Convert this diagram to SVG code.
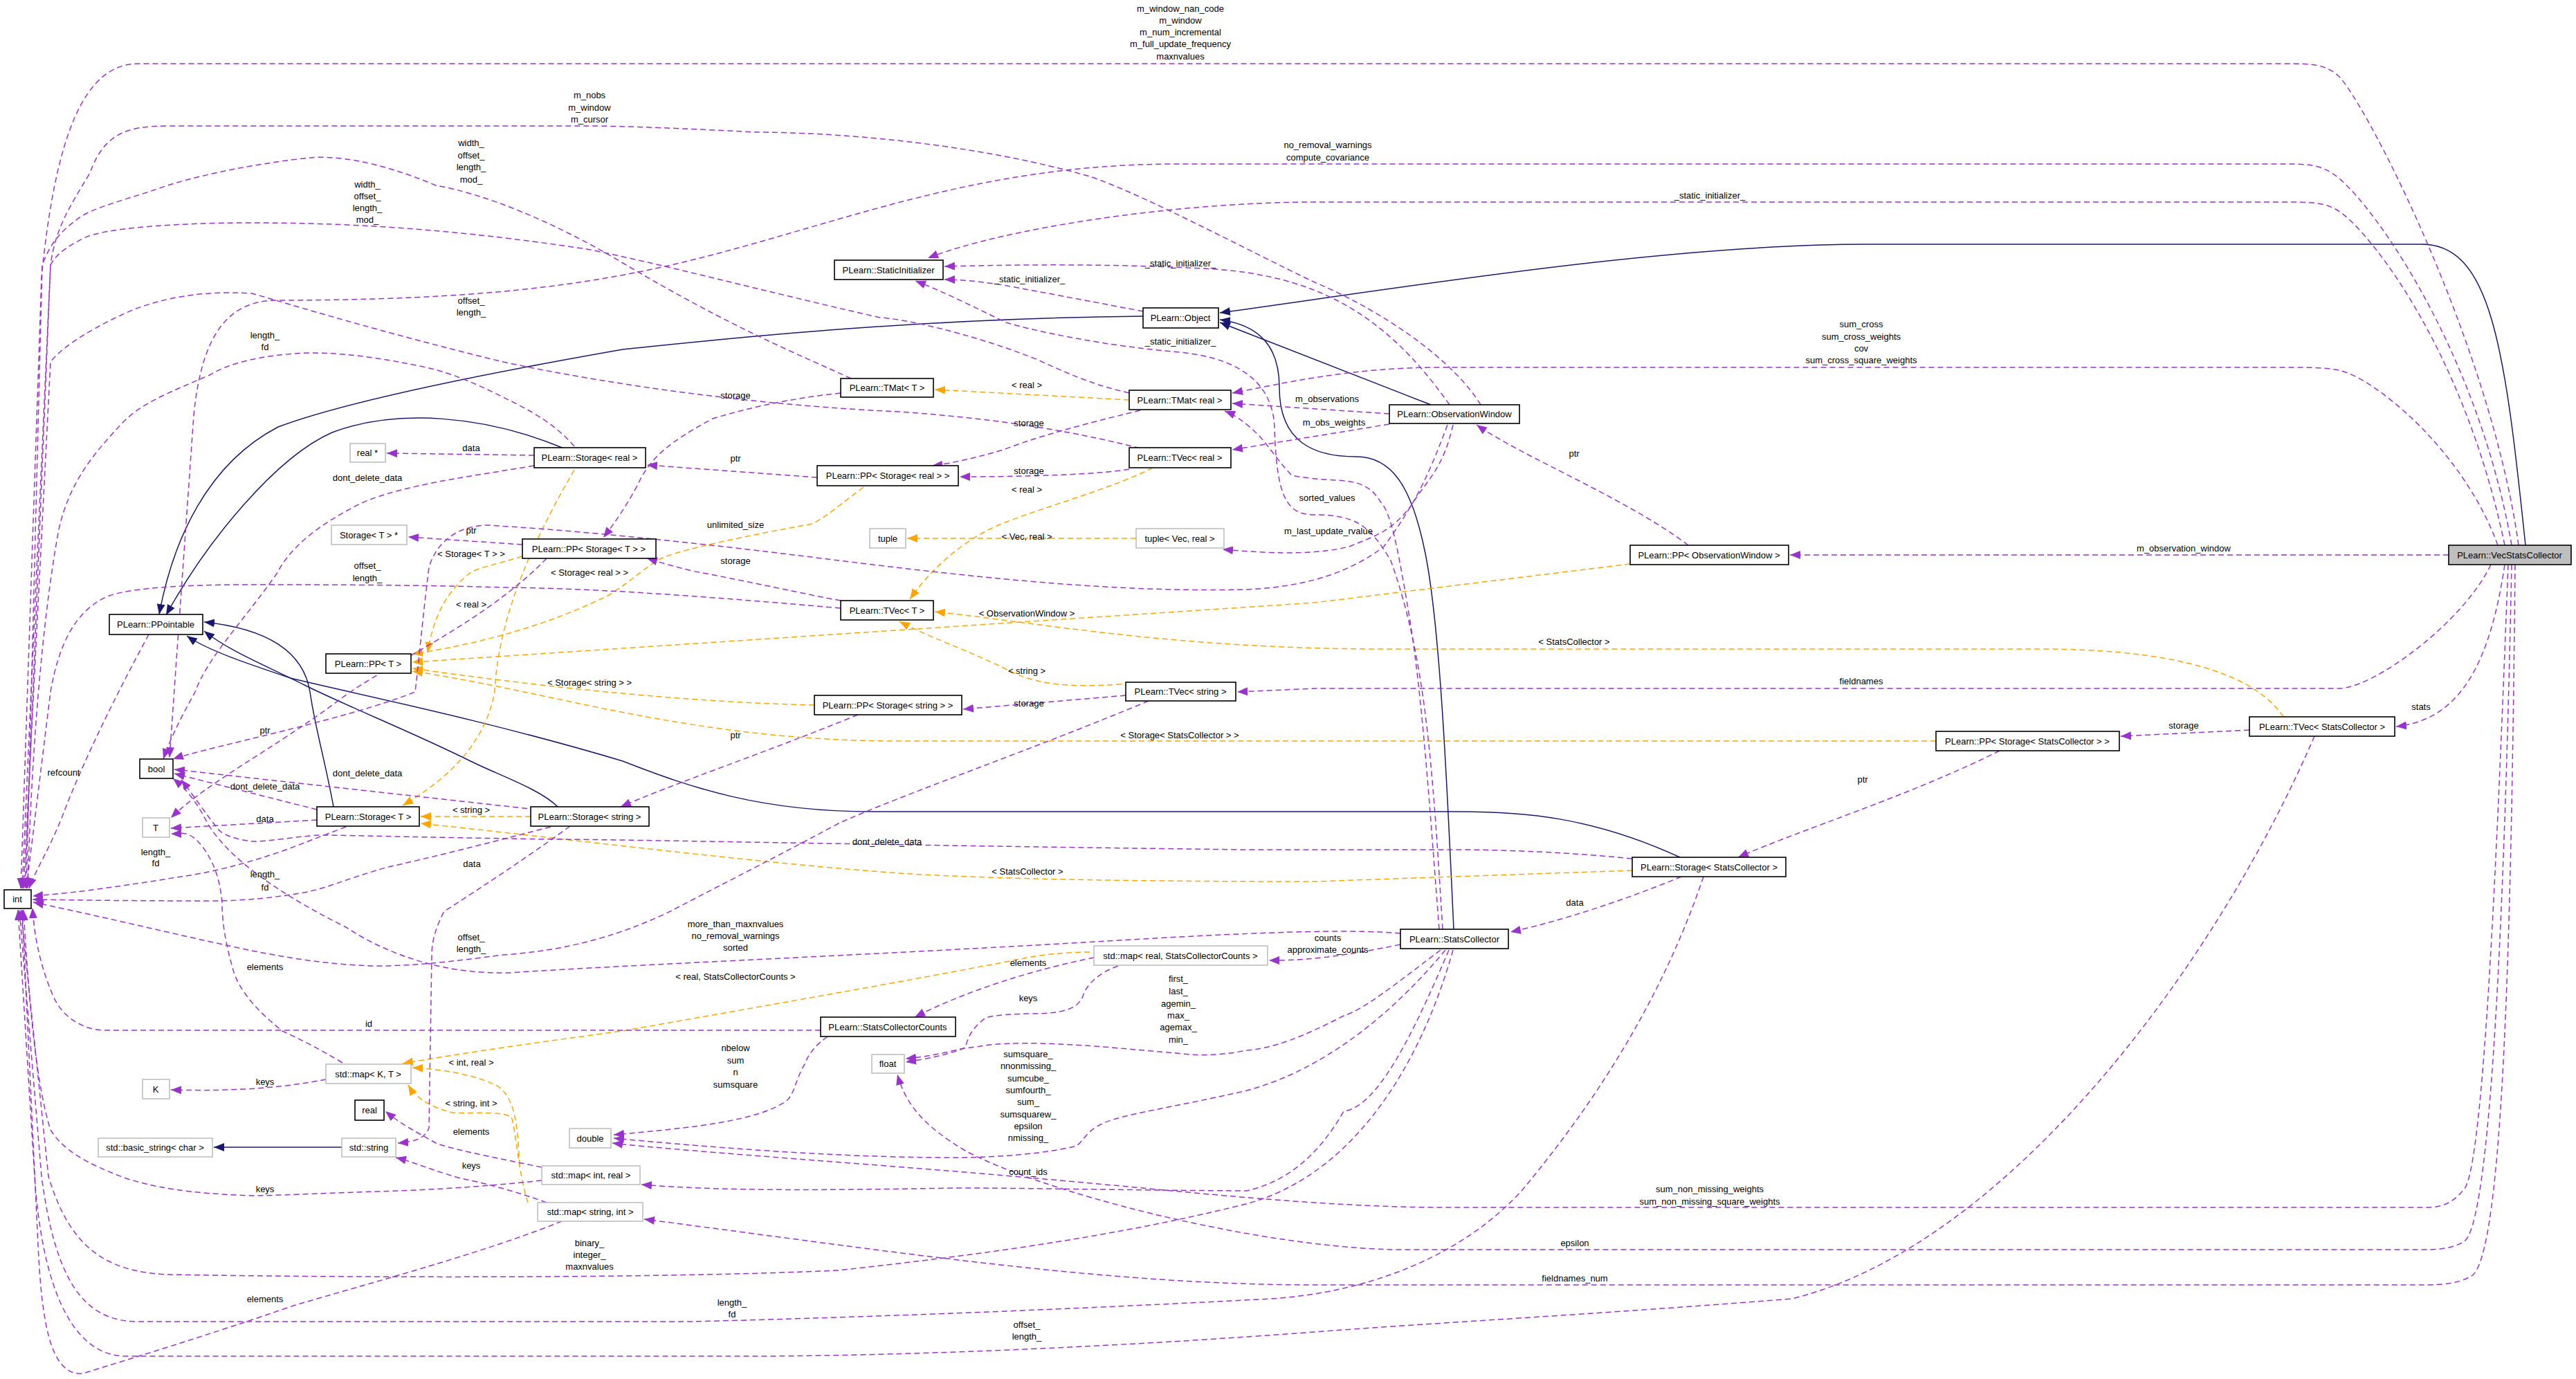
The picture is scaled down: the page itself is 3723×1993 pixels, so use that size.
<svg xmlns="http://www.w3.org/2000/svg" width="3723" height="1993" viewBox="0 0 3723 1993">
<style>
text{font-family:"Liberation Sans",Arial,sans-serif;font-size:13px;fill:#000}
.nt{text-anchor:middle}
.lb{text-anchor:middle}
.n rect{fill:#fff;stroke:#000;stroke-width:1.6}
.e rect{fill:#fff;stroke:#bfbfbf;stroke-width:1.6}
.g rect{fill:#bfbfbf;stroke:#000;stroke-width:1.6}
.u{fill:none;stroke:#9a32cd;stroke-width:1.5;stroke-dasharray:8,5;marker-end:url(#mu)}
.t{fill:none;stroke:#ffa500;stroke-width:1.5;stroke-dasharray:8,5;marker-end:url(#mt)}
.i{fill:none;stroke:#191970;stroke-width:1.5;marker-end:url(#mi)}
</style>
<defs>
<marker id="mu" markerUnits="userSpaceOnUse" markerWidth="16" markerHeight="12" refX="15" refY="6" orient="auto"><path d="M0,0 L15,6 L0,12 z" fill="#9a32cd"/></marker>
<marker id="mt" markerUnits="userSpaceOnUse" markerWidth="16" markerHeight="12" refX="15" refY="6" orient="auto"><path d="M0,0 L15,6 L0,12 z" fill="#ffa500"/></marker>
<marker id="mi" markerUnits="userSpaceOnUse" markerWidth="16" markerHeight="12" refX="15" refY="6" orient="auto"><path d="M0,0 L15,6 L0,12 z" fill="#191970"/></marker>
</defs>
<rect width="3723" height="1993" fill="#fff"/>
<g id="edges">
<path class="i" d="M3650,788 C3620,500 3600,353 3500,353 L2700,353 C2400,353 2000,420 1763,452"/>
<path class="i" d="M2068,585 L1763,466"/>
<path class="i" d="M2101,1343 C2090,1100 2080,900 2060,800 C2040,700 2010,660 1960,660 C1900,660 1849,640 1849,560 C1849,500 1820,470 1763,462"/>
<path class="i" d="M1652,457 C1300,460 1000,495 900,505 C700,540 500,580 402,617 C300,670 250,780 230,888"/>
<path class="i" d="M815,648 C700,600 574,590 480,625 C400,660 300,780 240,889"/>
<path class="i" d="M482,1166 C470,1100 455,1050 448,1000 C440,950 400,910 295,899"/>
<path class="i" d="M806,1166 C780,1140 720,1120 680,1100 C600,1060 500,1020 440,990 C380,960 330,940 295,912"/>
<path class="i" d="M2428,1239 C2300,1180 2200,1173 2107,1173 L1260,1173 C1100,1173 1000,1139 900,1100 C700,1040 500,1000 420,980 C360,960 300,940 270,919"/>
<path class="i" d="M494,1658 L309,1658"/>
<path class="t" d="M1632,578 L1351,563"/>
<path class="t" d="M1666,676 C1600,710 1480,740 1430,765 C1380,790 1340,830 1315,866"/>
<path class="t" d="M1642,778 L1311,778"/>
<path class="t" d="M1660,986 C1600,990 1520,1000 1460,970 C1400,940 1340,920 1300,898"/>
<path class="t" d="M2356,815 L1900,871 L596,957"/>
<path class="t" d="M3300,1036 C3250,960 3100,938 2950,938 L2000,938 C1700,938 1500,900 1351,884"/>
<path class="t" d="M1248,704 C1200,740 1180,759 1163,759 C1050,780 969,798 950,810 C920,830 909,842 880,860 C800,900 700,930 596,945"/>
<path class="t" d="M755,804 C720,815 690,820 678,829 C640,860 625,900 618,943"/>
<path class="t" d="M1177,1019 C1000,1015 800,995 596,966"/>
<path class="t" d="M2798,1071 L1300,1071 C1000,1071 800,1000 596,970"/>
<path class="t" d="M830,679 C760,800 720,900 715,1000 C700,1080 640,1130 582,1164"/>
<path class="t" d="M767,1180 L608,1180"/>
<path class="t" d="M2359,1258 L1900,1274 C1700,1274 1454,1272 1300,1262 C1090,1247 800,1210 608,1190"/>
<path class="t" d="M1575,1376 C1540,1376 1503,1380 1480,1385 C1300,1420 1091,1456 900,1490 C750,1510 650,1525 582,1537"/>
<path class="t" d="M751,1684 C748,1640 748,1590 720,1570 C680,1550 630,1545 596,1543"/>
<path class="t" d="M763,1738 C750,1700 745,1630 739,1614 C720,1605 680,1610 654,1608 C620,1600 600,1585 590,1568"/>
<path class="u" d="M3640,788 C3600,500 3420,150 3380,110 C3360,92 3340,92 3300,92 L200,92 C120,92 80,200 60,400 L30,1284"/>
<path class="u" d="M3630,788 C3580,500 3420,280 3370,250 C3350,237 3330,237 3300,237 L1700,237 C1400,237 1200,330 970,383 C850,410 700,434 400,434 C320,434 290,500 280,600 L245,1095"/>
<path class="u" d="M3620,788 C3560,500 3420,330 3380,305 C3360,292 3340,292 3300,292 L1900,292 C1700,292 1450,330 1341,373"/>
<path class="u" d="M3610,788 C3560,650 3430,545 3380,535 C3360,531 3340,531 3300,531 L2080,531 C1950,531 1850,555 1781,568"/>
<path class="u" d="M3539,802 L2587,802"/>
<path class="u" d="M3600,816 C3560,900 3430,995 3380,995 L1900,995 L1788,1000"/>
<path class="u" d="M3620,816 C3600,950 3560,1040 3463,1050"/>
<path class="u" d="M3625,816 C3610,1200 3590,1700 3560,1720 C3540,1745 3520,1745 3500,1745 L2090,1745 C1900,1745 1700,1720 1486,1702 C1300,1685 1000,1665 885,1652"/>
<path class="u" d="M3630,816 C3620,1300 3600,1780 3560,1795 C3540,1806 3520,1806 3500,1806 L2012,1806 C1800,1800 1500,1720 1395,1663 C1340,1630 1310,1600 1297,1553"/>
<path class="u" d="M3635,816 C3630,1300 3620,1830 3570,1845 C3550,1857 3520,1857 3500,1857 L1900,1857 C1600,1857 1300,1810 931,1762"/>
<path class="u" d="M2140,585 C2100,520 2000,450 1900,408 C1800,360 1650,280 1575,255 C1400,205 1200,191 1090,191 C1000,186 900,182 848,182 L242,182 C180,182 150,195 130,250 C100,300 80,330 73,383 L32,1284"/>
<path class="u" d="M2095,585 C2000,450 1900,400 1757,389 C1600,380 1450,383 1365,385"/>
<path class="u" d="M2008,598 L1781,583"/>
<path class="u" d="M2008,613 L1781,650"/>
<path class="u" d="M2100,614 C2085,680 2061,695 2040,730 C2010,770 1985,775 1950,790 C1908,800 1857,802 1767,794"/>
<path class="u" d="M2092,614 C2060,700 2041,733 2000,790 C1959,821 1900,848 1800,852 C1653,855 1500,846 1212,810 C1163,804 900,770 703,759 C660,760 630,785 620,820 C610,900 606,950 600,1000 C500,1040 300,1080 250,1097"/>
<path class="u" d="M1230,547 C1150,510 1066,478 900,380 C800,320 700,280 630,268 C540,230 480,225 448,228 C380,235 300,250 242,268 C180,290 130,300 109,319 C80,340 70,360 61,383 L38,1284"/>
<path class="u" d="M1632,568 C1600,560 1575,555 1500,520 C1400,480 1300,460 1272,459 C1100,420 950,380 848,360 C650,330 500,322 364,322 C250,322 150,330 121,344 C90,360 80,370 73,383 L36,1284"/>
<path class="u" d="M1215,568 C1150,575 1090,587 1030,605 C969,638 940,660 921,702 C900,740 885,760 872,777"/>
<path class="u" d="M1648,593 C1600,605 1515,625 1450,650 C1400,665 1360,672 1347,673"/>
<path class="u" d="M1632,678 C1600,684 1515,689 1387,689"/>
<path class="u" d="M1215,868 C1170,860 1090,842 1000,825 C960,815 945,810 935,807"/>
<path class="u" d="M1215,879 C1000,860 850,850 727,849 C600,845 450,845 364,845 C260,845 190,850 158,861 C110,880 85,930 73,1000 L38,1284"/>
<path class="u" d="M1660,651 C1560,625 1454,606 1300,595 C1115,587 900,560 727,523 C550,480 420,440 364,424 C290,420 240,430 194,447 C140,470 90,500 73,523 L34,1284"/>
<path class="u" d="M1660,1013 C1500,1080 1300,1150 1212,1190 C1100,1250 1020,1290 969,1317 C880,1360 800,1375 727,1380 C650,1390 600,1396 545,1396 C480,1395 420,1385 364,1374 C250,1350 150,1325 48,1304"/>
<path class="u" d="M830,645 C800,610 760,590 727,574 C680,550 640,535 606,529 C540,515 490,510 448,510 C380,512 330,525 303,542 C250,565 210,580 182,606 C130,660 100,700 85,765 C60,900 45,1100 40,1284"/>
<path class="u" d="M772,658 L559,655"/>
<path class="u" d="M772,673 C700,685 650,692 606,702 C560,712 530,722 509,734 C460,760 420,790 400,829 C350,900 300,950 282,1000 C260,1040 245,1070 236,1097"/>
<path class="u" d="M1181,690 L935,672"/>
<path class="u" d="M755,787 L590,776"/>
<path class="u" d="M790,807 C700,900 560,960 495,1008 C400,1080 300,1130 247,1182"/>
<path class="u" d="M1240,1033 C1100,1090 980,1130 897,1166"/>
<path class="u" d="M1627,1005 L1392,1025"/>
<path class="u" d="M458,1170 L252,1118"/>
<path class="u" d="M458,1185 L247,1197"/>
<path class="u" d="M500,1195 C460,1210 430,1222 408,1230 C350,1250 300,1262 255,1268 C150,1285 90,1292 47,1295"/>
<path class="u" d="M775,1170 L252,1112"/>
<path class="u" d="M796,1195 C700,1220 620,1240 561,1253 C500,1270 470,1285 434,1291 C390,1298 350,1302 306,1302 C200,1302 120,1301 47,1300"/>
<path class="u" d="M824,1194 C760,1240 700,1280 642,1317 C630,1340 624,1360 624,1380 L620,1630 C615,1645 600,1650 575,1652"/>
<path class="u" d="M215,917 C170,1000 120,1100 90,1180 C70,1230 50,1260 42,1284"/>
<path class="u" d="M471,1560 C420,1570 350,1578 247,1575"/>
<path class="u" d="M495,1536 C460,1515 430,1500 408,1490 C370,1460 345,1430 337,1402 C325,1360 321,1330 321,1306 C318,1260 300,1230 285,1215 C270,1200 258,1205 247,1205"/>
<path class="u" d="M783,1687 C700,1670 650,1660 630,1652 C600,1635 580,1625 557,1606"/>
<path class="u" d="M783,1706 C700,1715 620,1720 545,1722 C450,1725 400,1728 364,1728 C270,1725 220,1715 182,1703 C120,1680 90,1660 73,1633 C50,1560 40,1420 34,1315"/>
<path class="u" d="M790,1738 C740,1720 700,1710 666,1703 C620,1690 600,1680 572,1673"/>
<path class="u" d="M812,1765 C700,1810 550,1850 424,1887 C300,1930 200,1960 120,1985 C70,1990 60,1900 55,1800 L32,1315"/>
<path class="u" d="M1581,1384 C1500,1400 1400,1430 1322,1470"/>
<path class="u" d="M1616,1396 C1590,1405 1570,1422 1565,1440 C1556,1461 1530,1465 1486,1465 C1450,1466 1430,1468 1423,1472 C1400,1490 1398,1505 1395,1514 C1370,1525 1340,1530 1309,1535"/>
<path class="u" d="M1186,1489 L800,1489 L153,1489 C120,1489 90,1470 77,1440 C60,1400 50,1360 47,1312"/>
<path class="u" d="M1196,1498 C1180,1510 1170,1520 1163,1538 C1150,1560 1150,1575 1139,1589 C1100,1620 1000,1630 887,1640"/>
<path class="u" d="M2024,1365 C1950,1380 1900,1388 1834,1388"/>
<path class="u" d="M2024,1349 C1950,1342 1800,1348 1600,1360 C1300,1378 900,1395 750,1405 C650,1412 560,1380 500,1340 C400,1290 330,1240 300,1190 C280,1150 262,1135 250,1125"/>
<path class="u" d="M2082,1373 C2020,1420 1970,1460 1942,1468 C1880,1500 1840,1515 1802,1518 C1760,1526 1731,1526 1700,1522 C1650,1518 1591,1512 1550,1510 C1500,1507 1465,1507 1430,1510 C1400,1515 1395,1514 1380,1518 C1350,1525 1330,1528 1309,1530"/>
<path class="u" d="M2089,1373 C2000,1480 1900,1550 1802,1576 C1700,1600 1620,1610 1591,1625 C1570,1635 1565,1650 1556,1656 C1500,1670 1420,1673 1381,1673 C1250,1673 1100,1665 887,1645"/>
<path class="u" d="M2094,1373 C2040,1500 1990,1600 1942,1606 C1900,1680 1850,1710 1802,1721 C1600,1720 1500,1717 1381,1717 C1200,1720 1050,1722 927,1712"/>
<path class="u" d="M2100,1373 C2050,1550 1950,1700 1801,1740 C1600,1790 1400,1815 1212,1836 C900,1850 400,1845 242,1842 C150,1838 100,1800 70,1700 L30,1315"/>
<path class="u" d="M2085,1343 C2070,1100 2060,950 2010,810 C1980,760 1960,744 1900,744 C1860,744 1845,720 1842,618 C1840,560 1800,518 1704,509 C1600,500 1500,480 1454,466 C1400,440 1360,420 1323,406"/>
<path class="u" d="M2080,1343 C2065,1150 2055,1000 2036,886 C2020,790 2010,740 1995,725 C1980,700 1959,695 1930,694 C1908,693 1880,690 1867,687 C1850,670 1837,649 1820,630 C1800,610 1785,600 1770,594"/>
<path class="u" d="M1652,450 C1600,440 1515,424 1450,412 C1410,406 1385,404 1365,404"/>
<path class="u" d="M2430,1267 C2350,1300 2260,1330 2183,1347"/>
<path class="u" d="M2359,1241 C2250,1230 2150,1228 2107,1228 L1800,1228 C1300,1222 900,1213 800,1213 C600,1210 500,1207 459,1207 C420,1210 390,1216 367,1216 C340,1214 320,1205 316,1199 C300,1180 280,1150 262,1127"/>
<path class="u" d="M2462,1267 C2400,1450 2300,1600 2200,1720 C2100,1830 1950,1870 1837,1877 C1500,1895 1200,1905 1000,1910 L200,1910 C120,1910 80,1850 60,1700 L28,1315"/>
<path class="u" d="M2890,1085 C2760,1150 2600,1200 2512,1239"/>
<path class="u" d="M3251,1055 L3065,1064"/>
<path class="u" d="M3345,1064 C3200,1400 2900,1800 2590,1877 C2300,1900 2100,1910 1900,1925 C1500,1955 1200,1960 1090,1960 L182,1960 C100,1960 60,1850 50,1700 L26,1315"/>
<path class="u" d="M2440,788 C2350,720 2200,660 2134,614"/>
</g>
<g id="edge-labels">
<text class="lb" x="1706" y="17">m_window_nan_code</text>
<text class="lb" x="1706" y="34">m_window</text>
<text class="lb" x="1706" y="51">m_num_incremental</text>
<text class="lb" x="1706" y="68">m_full_update_frequency</text>
<text class="lb" x="1706" y="86">maxnvalues</text>
<text class="lb" x="852" y="142">m_nobs</text>
<text class="lb" x="852" y="160">m_window</text>
<text class="lb" x="852" y="177">m_cursor</text>
<text class="lb" x="681" y="211">width_</text>
<text class="lb" x="681" y="229">offset_</text>
<text class="lb" x="681" y="246">length_</text>
<text class="lb" x="681" y="264">mod_</text>
<text class="lb" x="1919" y="214">no_removal_warnings</text>
<text class="lb" x="1919" y="232">compute_covariance</text>
<text class="lb" x="531" y="271">width_</text>
<text class="lb" x="531" y="288">offset_</text>
<text class="lb" x="531" y="305">length_</text>
<text class="lb" x="531" y="322">mod_</text>
<text class="lb" x="2471" y="287">_static_initializer_</text>
<text class="lb" x="1706" y="385">_static_initializer_</text>
<text class="lb" x="1488" y="408">_static_initializer_</text>
<text class="lb" x="1706" y="498">_static_initializer_</text>
<text class="lb" x="681" y="439">offset_</text>
<text class="lb" x="681" y="456">length_</text>
<text class="lb" x="383" y="489">length_</text>
<text class="lb" x="383" y="506">fd</text>
<text class="lb" x="2690" y="473">sum_cross</text>
<text class="lb" x="2690" y="491">sum_cross_weights</text>
<text class="lb" x="2690" y="508">cov</text>
<text class="lb" x="2690" y="525">sum_cross_square_weights</text>
<text class="lb" x="1484" y="561">&lt; real &gt;</text>
<text class="lb" x="1063" y="576">storage</text>
<text class="lb" x="1918" y="581">m_observations</text>
<text class="lb" x="1487" y="616">storage</text>
<text class="lb" x="1928" y="615">m_obs_weights</text>
<text class="lb" x="681" y="652">data</text>
<text class="lb" x="1063" y="667">ptr</text>
<text class="lb" x="2275" y="660">ptr</text>
<text class="lb" x="1487" y="685">storage</text>
<text class="lb" x="531" y="695">dont_delete_data</text>
<text class="lb" x="1484" y="712">&lt; real &gt;</text>
<text class="lb" x="1918" y="724">sorted_values</text>
<text class="lb" x="1063" y="763">unlimited_size</text>
<text class="lb" x="681" y="771">ptr</text>
<text class="lb" x="1920" y="772">m_last_update_rvalue</text>
<text class="lb" x="1484" y="780">&lt; Vec, real &gt;</text>
<text class="lb" x="3156" y="797">m_observation_window</text>
<text class="lb" x="681" y="805">&lt; Storage&lt; T &gt; &gt;</text>
<text class="lb" x="1063" y="815">storage</text>
<text class="lb" x="531" y="822">offset_</text>
<text class="lb" x="531" y="840">length_</text>
<text class="lb" x="852" y="832">&lt; Storage&lt; real &gt; &gt;</text>
<text class="lb" x="681" y="878">&lt; real &gt;</text>
<text class="lb" x="1484" y="891">&lt; ObservationWindow &gt;</text>
<text class="lb" x="2275" y="932">&lt; StatsCollector &gt;</text>
<text class="lb" x="1484" y="974">&lt; string &gt;</text>
<text class="lb" x="2690" y="989">fieldnames</text>
<text class="lb" x="852" y="991">&lt; Storage&lt; string &gt; &gt;</text>
<text class="lb" x="1487" y="1021">storage</text>
<text class="lb" x="3499" y="1026">stats</text>
<text class="lb" x="3156" y="1053">storage</text>
<text class="lb" x="383" y="1060">ptr</text>
<text class="lb" x="1063" y="1067">ptr</text>
<text class="lb" x="1705" y="1067">&lt; Storage&lt; StatsCollector &gt; &gt;</text>
<text class="lb" x="92" y="1121">refcount</text>
<text class="lb" x="531" y="1122">dont_delete_data</text>
<text class="lb" x="2692" y="1131">ptr</text>
<text class="lb" x="383" y="1141">dont_delete_data</text>
<text class="lb" x="681" y="1175">&lt; string &gt;</text>
<text class="lb" x="383" y="1188">data</text>
<text class="lb" x="1282" y="1221">dont_delete_data</text>
<text class="lb" x="225" y="1236">length_</text>
<text class="lb" x="225" y="1252">fd</text>
<text class="lb" x="682" y="1253">data</text>
<text class="lb" x="1485" y="1264">&lt; StatsCollector &gt;</text>
<text class="lb" x="383" y="1268">length_</text>
<text class="lb" x="383" y="1287">fd</text>
<text class="lb" x="2276" y="1309">data</text>
<text class="lb" x="1063" y="1340">more_than_maxnvalues</text>
<text class="lb" x="1063" y="1357">no_removal_warnings</text>
<text class="lb" x="1063" y="1374">sorted</text>
<text class="lb" x="681" y="1359">offset_</text>
<text class="lb" x="681" y="1376">length_</text>
<text class="lb" x="1919" y="1360">counts</text>
<text class="lb" x="1919" y="1377">approximate_counts</text>
<text class="lb" x="1486" y="1396">elements</text>
<text class="lb" x="383" y="1402">elements</text>
<text class="lb" x="1063" y="1416">&lt; real, StatsCollectorCounts &gt;</text>
<text class="lb" x="1703" y="1419">first_</text>
<text class="lb" x="1703" y="1437">last_</text>
<text class="lb" x="1703" y="1455">agemin_</text>
<text class="lb" x="1703" y="1472">max_</text>
<text class="lb" x="1703" y="1489">agemax_</text>
<text class="lb" x="1703" y="1507">min_</text>
<text class="lb" x="1486" y="1447">keys</text>
<text class="lb" x="533" y="1484">id</text>
<text class="lb" x="1063" y="1519">nbelow</text>
<text class="lb" x="1063" y="1537">sum</text>
<text class="lb" x="1063" y="1554">n</text>
<text class="lb" x="1063" y="1572">sumsquare</text>
<text class="lb" x="1486" y="1528">sumsquare_</text>
<text class="lb" x="1486" y="1545">nnonmissing_</text>
<text class="lb" x="1486" y="1563">sumcube_</text>
<text class="lb" x="1486" y="1580">sumfourth_</text>
<text class="lb" x="1486" y="1597">sum_</text>
<text class="lb" x="1486" y="1615">sumsquarew_</text>
<text class="lb" x="1486" y="1632">epsilon</text>
<text class="lb" x="1486" y="1649">nmissing_</text>
<text class="lb" x="681" y="1540">&lt; int, real &gt;</text>
<text class="lb" x="383" y="1568">keys</text>
<text class="lb" x="681" y="1599">&lt; string, int &gt;</text>
<text class="lb" x="681" y="1640">elements</text>
<text class="lb" x="681" y="1689">keys</text>
<text class="lb" x="1486" y="1698">count_ids</text>
<text class="lb" x="383" y="1723">keys</text>
<text class="lb" x="2471" y="1723">sum_non_missing_weights</text>
<text class="lb" x="2471" y="1741">sum_non_missing_square_weights</text>
<text class="lb" x="2276" y="1801">epsilon</text>
<text class="lb" x="852" y="1801">binary_</text>
<text class="lb" x="852" y="1818">integer_</text>
<text class="lb" x="852" y="1835">maxnvalues</text>
<text class="lb" x="2276" y="1852">fieldnames_num</text>
<text class="lb" x="383" y="1882">elements</text>
<text class="lb" x="1058" y="1887">length_</text>
<text class="lb" x="1058" y="1904">fd</text>
<text class="lb" x="1484" y="1919">offset_</text>
<text class="lb" x="1484" y="1936">length_</text>
</g>
<g id="n-vsc" class="g"><rect x="3539" y="788" width="177" height="28"/><text class="nt" x="3627" y="807">PLearn::VecStatsCollector</text></g>
<g id="n-staticinit" class="n"><rect x="1206" y="376" width="157" height="28"/><text class="nt" x="1284" y="395">PLearn::StaticInitializer</text></g>
<g id="n-object" class="n"><rect x="1652" y="445" width="109" height="29"/><text class="nt" x="1706" y="464">PLearn::Object</text></g>
<g id="n-tmatT" class="n"><rect x="1215" y="547" width="134" height="27"/><text class="nt" x="1282" y="565">PLearn::TMat&lt; T &gt;</text></g>
<g id="n-tmatreal" class="n"><rect x="1632" y="564" width="147" height="28"/><text class="nt" x="1705" y="583">PLearn::TMat&lt; real &gt;</text></g>
<g id="n-obswin" class="n"><rect x="2008" y="585" width="188" height="27"/><text class="nt" x="2102" y="603">PLearn::ObservationWindow</text></g>
<g id="n-realptr" class="e"><rect x="506" y="641" width="51" height="27"/><text class="nt" x="531" y="659">real *</text></g>
<g id="n-storagereal" class="n"><rect x="772" y="647" width="161" height="29"/><text class="nt" x="852" y="666">PLearn::Storage&lt; real &gt;</text></g>
<g id="n-tvecreal" class="n"><rect x="1632" y="647" width="147" height="29"/><text class="nt" x="1705" y="666">PLearn::TVec&lt; real &gt;</text></g>
<g id="n-ppstoragereal" class="n"><rect x="1181" y="673" width="204" height="29"/><text class="nt" x="1283" y="692">PLearn::PP&lt; Storage&lt; real &gt; &gt;</text></g>
<g id="n-storageTptr" class="e"><rect x="479" y="759" width="109" height="28"/><text class="nt" x="533" y="778">Storage&lt; T &gt; *</text></g>
<g id="n-tuple" class="e"><rect x="1257" y="764" width="52" height="28"/><text class="nt" x="1283" y="783">tuple</text></g>
<g id="n-tuplevec" class="e"><rect x="1642" y="764" width="127" height="28"/><text class="nt" x="1705" y="783">tuple&lt; Vec, real &gt;</text></g>
<g id="n-ppstorageT" class="n"><rect x="755" y="779" width="193" height="28"/><text class="nt" x="851" y="798">PLearn::PP&lt; Storage&lt; T &gt; &gt;</text></g>
<g id="n-ppobswin" class="n"><rect x="2356" y="788" width="229" height="28"/><text class="nt" x="2470" y="807">PLearn::PP&lt; ObservationWindow &gt;</text></g>
<g id="n-tvecT" class="n"><rect x="1215" y="868" width="134" height="28"/><text class="nt" x="1282" y="887">PLearn::TVec&lt; T &gt;</text></g>
<g id="n-ppointable" class="n"><rect x="158" y="888" width="135" height="29"/><text class="nt" x="225" y="907">PLearn::PPointable</text></g>
<g id="n-ppT" class="n"><rect x="471" y="945" width="123" height="28"/><text class="nt" x="532" y="964">PLearn::PP&lt; T &gt;</text></g>
<g id="n-tvecstring" class="n"><rect x="1627" y="986" width="159" height="27"/><text class="nt" x="1706" y="1004">PLearn::TVec&lt; string &gt;</text></g>
<g id="n-ppstoragestring" class="n"><rect x="1177" y="1005" width="213" height="28"/><text class="nt" x="1283" y="1024">PLearn::PP&lt; Storage&lt; string &gt; &gt;</text></g>
<g id="n-tvecsc" class="n"><rect x="3251" y="1036" width="210" height="28"/><text class="nt" x="3356" y="1055">PLearn::TVec&lt; StatsCollector &gt;</text></g>
<g id="n-ppstoragesc" class="n"><rect x="2798" y="1057" width="265" height="28"/><text class="nt" x="2930" y="1076">PLearn::PP&lt; Storage&lt; StatsCollector &gt; &gt;</text></g>
<g id="n-bool" class="n"><rect x="202" y="1097" width="48" height="28"/><text class="nt" x="226" y="1116">bool</text></g>
<g id="n-storageT" class="n"><rect x="458" y="1166" width="148" height="28"/><text class="nt" x="532" y="1185">PLearn::Storage&lt; T &gt;</text></g>
<g id="n-storagestring" class="n"><rect x="767" y="1166" width="171" height="28"/><text class="nt" x="852" y="1185">PLearn::Storage&lt; string &gt;</text></g>
<g id="n-T" class="e"><rect x="206" y="1182" width="39" height="28"/><text class="nt" x="225" y="1201">T</text></g>
<g id="n-storagesc" class="n"><rect x="2359" y="1239" width="222" height="28"/><text class="nt" x="2470" y="1258">PLearn::Storage&lt; StatsCollector &gt;</text></g>
<g id="n-int" class="n"><rect x="6" y="1286" width="39" height="27"/><text class="nt" x="25" y="1304">int</text></g>
<g id="n-statscollector" class="n"><rect x="2024" y="1343" width="156" height="28"/><text class="nt" x="2102" y="1362">PLearn::StatsCollector</text></g>
<g id="n-mapscc" class="e"><rect x="1581" y="1367" width="251" height="28"/><text class="nt" x="1706" y="1386">std::map&lt; real, StatsCollectorCounts &gt;</text></g>
<g id="n-scc" class="n"><rect x="1186" y="1470" width="195" height="28"/><text class="nt" x="1283" y="1489">PLearn::StatsCollectorCounts</text></g>
<g id="n-float" class="e"><rect x="1260" y="1524" width="47" height="27"/><text class="nt" x="1283" y="1542">float</text></g>
<g id="n-mapKT" class="e"><rect x="471" y="1538" width="123" height="28"/><text class="nt" x="532" y="1557">std::map&lt; K, T &gt;</text></g>
<g id="n-K" class="e"><rect x="206" y="1560" width="39" height="28"/><text class="nt" x="225" y="1579">K</text></g>
<g id="n-real" class="n"><rect x="513" y="1590" width="42" height="29"/><text class="nt" x="534" y="1609">real</text></g>
<g id="n-double" class="e"><rect x="823" y="1631" width="60" height="28"/><text class="nt" x="853" y="1650">double</text></g>
<g id="n-basicstring" class="e"><rect x="142" y="1645" width="165" height="27"/><text class="nt" x="224" y="1663">std::basic_string&lt; char &gt;</text></g>
<g id="n-stdstring" class="e"><rect x="494" y="1645" width="78" height="27"/><text class="nt" x="533" y="1663">std::string</text></g>
<g id="n-mapintreal" class="e"><rect x="783" y="1685" width="142" height="27"/><text class="nt" x="854" y="1703">std::map&lt; int, real &gt;</text></g>
<g id="n-mapstringint" class="e"><rect x="777" y="1738" width="152" height="27"/><text class="nt" x="853" y="1756">std::map&lt; string, int &gt;</text></g>
</svg>
